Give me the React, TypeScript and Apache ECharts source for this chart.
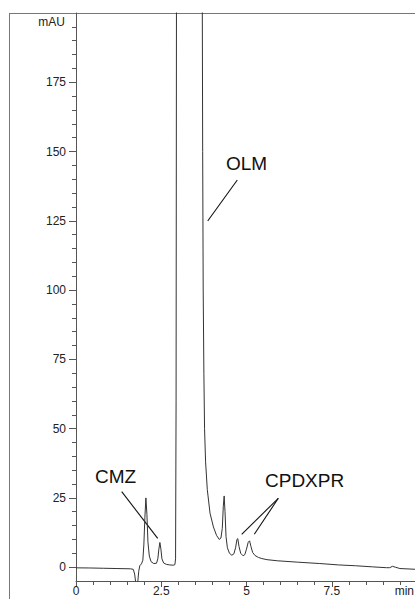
import React, { useEffect, useRef } from "react";
import * as echarts from "echarts";

// Chromatogram trace, [time (min), absorbance (mAU)]
const baselineStart: [number, number][] = [
  [0, -0.25], [0.4, -0.3], [0.8, -0.4], [1.2, -0.5], [1.6, -0.6], [1.68, -0.8],
  [1.72, -2.5], [1.75, -5.5], [1.78, -7], [1.81, -5.5], [1.84, -1.5], [1.87, 0.5], [1.92, 1.2],
];
const cmzRegion: [number, number][] = [
  [1.96, 2.5], [1.99, 8], [2.02, 18], [2.05, 25], [2.08, 19], [2.11, 9], [2.15, 4],
  [2.2, 2], [2.28, 1.3], [2.36, 1.4], [2.4, 3], [2.43, 6.5], [2.46, 8.9], [2.49, 6.5],
  [2.52, 3], [2.57, 1.5], [2.65, 1], [2.75, 0.8], [2.85, 0.7], [2.9, 0.9],
];
const olmRegion: [number, number][] = [
  [2.92, 3], [2.935, 60], [2.95, 250], [3.0, 600], [3.15, 1100], [3.3, 1300], [3.45, 1100],
  [3.6, 700], [3.68, 350], [3.7, 220], [3.715, 150], [3.73, 100], [3.75, 70], [3.77, 50],
  [3.8, 38], [3.85, 28], [3.93, 19.5], [4.03, 14.5], [4.12, 11.5], [4.2, 10],
];
const cpdxprRegion: [number, number][] = [
  [4.25, 10.5], [4.29, 14], [4.32, 22], [4.345, 25.7], [4.37, 20], [4.4, 11], [4.44, 7],
  [4.5, 5], [4.57, 4.3], [4.63, 4.8], [4.68, 7], [4.72, 10], [4.745, 10.3], [4.78, 7.5],
  [4.83, 5], [4.9, 4.1], [4.95, 4.5], [5.0, 6.5], [5.05, 9], [5.09, 9.5], [5.13, 7.5],
  [5.18, 5.3], [5.25, 4.2], [5.35, 3.5], [5.45, 3.1],
];
const tailRegion: [number, number][] = [
  [5.6, 2.7], [5.9, 2.3], [6.5, 1.8], [7.15, 1.3], [7.7, 0.8], [8.2, 0.5], [8.7, 0.1],
  [9.1, -0.2], [9.2, -0.2], [9.28, 0.3], [9.36, 0.0], [9.5, -0.5], [10, -0.8],
];

const yMajorTicks = [0, 25, 50, 75, 100, 125, 150, 175];
const yMinorTicks = [
  5, 10, 15, 20, 30, 35, 40, 45, 55, 60, 65, 70, 80, 85, 90, 95, 105, 110, 115, 120,
  130, 135, 140, 145, 155, 160, 165, 170, 180, 185, 190, 195,
];
const peakLabels = ["OLM", "CMZ", "CPDXPR"];
const yUnit = "mAU";
const xUnit = "min";

const FONT = "'Liberation Sans', Arial, sans-serif";

export default function App() {
  const ref = useRef<HTMLDivElement>(null);
  useEffect(() => {
    if (!ref.current) return;
    const chart = echarts.init(ref.current, null, { renderer: "svg" });
    const trace = [...baselineStart, ...cmzRegion, ...olmRegion, ...cpdxprRegion, ...tailRegion];
    const axisColor = "#555";
    const textStyle = { fill: "#111", fontFamily: FONT, fontSize: 19 };
    const lineStyle = { stroke: "#111", lineWidth: 1.1 };
    chart.setOption({
      animation: false,
      backgroundColor: "#fff",
      textStyle: { fontFamily: FONT },
      grid: { left: 76, top: 13, width: 341, height: 568, outerBoundsMode: "none" },
      xAxis: {
        type: "value",
        min: 0,
        max: 10,
        interval: 2.5,
        axisLine: { onZero: false, lineStyle: { color: axisColor, width: 1 } },
        axisTick: { length: 6, lineStyle: { color: axisColor } },
        minorTick: { show: true, splitNumber: 5, length: 4, lineStyle: { color: axisColor } },
        axisLabel: { margin: 4, color: "#222", fontSize: 12, fontFamily: FONT, showMaxLabel: false },
        splitLine: { show: false },
      },
      yAxis: [
        {
          type: "value",
          min: -5,
          max: 200,
          axisLine: { show: true, onZero: false, lineStyle: { color: axisColor, width: 1 } },
          axisTick: { show: true, length: 7, customValues: yMajorTicks, lineStyle: { color: axisColor } },
          axisLabel: { margin: 10, color: "#222", fontSize: 12, fontFamily: FONT, customValues: yMajorTicks },
          splitLine: { show: false },
        },
        {
          type: "value",
          min: -5,
          max: 200,
          position: "left",
          axisLine: { show: false, onZero: false },
          axisTick: { show: true, length: 4, customValues: yMinorTicks, lineStyle: { color: axisColor } },
          axisLabel: { show: false },
          splitLine: { show: false },
        },
      ],
      series: [
        {
          type: "line",
          data: trace,
          xAxisIndex: 0,
          yAxisIndex: 0,
          showSymbol: false,
          symbol: "none",
          clip: true,
          lineStyle: { color: "#333", width: 1 },
        },
      ],
      graphic: [
        { type: "line", shape: { x1: 9, y1: 13.5, x2: 415, y2: 13.5 }, style: { stroke: "#777", lineWidth: 1 } },
        { type: "line", shape: { x1: 9.5, y1: 13, x2: 9.5, y2: 599 }, style: { stroke: "#777", lineWidth: 1 } },
        { type: "text", x: 65, y: 16, style: { text: yUnit, fontSize: 12, fontFamily: FONT, fill: "#222", align: "right", verticalAlign: "top" } },
        { type: "text", x: 414, y: 585, style: { text: xUnit, fontSize: 12, fontFamily: FONT, fill: "#222", align: "right", verticalAlign: "top" } },
        { type: "text", x: 226, y: 154, style: { ...textStyle, text: peakLabels[0], verticalAlign: "top" } },
        { type: "line", shape: { x1: 237.3, y1: 180, x2: 207.7, y2: 221 }, style: lineStyle },
        { type: "text", x: 95, y: 467, style: { ...textStyle, text: peakLabels[1], verticalAlign: "top" } },
        { type: "line", shape: { x1: 121.7, y1: 491.7, x2: 157.7, y2: 538.3 }, style: lineStyle },
        { type: "text", x: 265, y: 471, style: { ...textStyle, text: peakLabels[2], verticalAlign: "top" } },
        { type: "line", shape: { x1: 278.3, y1: 498.3, x2: 241.7, y2: 534.3 }, style: lineStyle },
        { type: "line", shape: { x1: 278.3, y1: 498.3, x2: 254.3, y2: 534.3 }, style: lineStyle },
      ],
    });
    return () => chart.dispose();
  }, []);
  return (
    <div
      ref={ref}
      style={{ position: "fixed", left: 0, top: 0, width: 415, height: 599, background: "#fff" }}
    />
  );
}
